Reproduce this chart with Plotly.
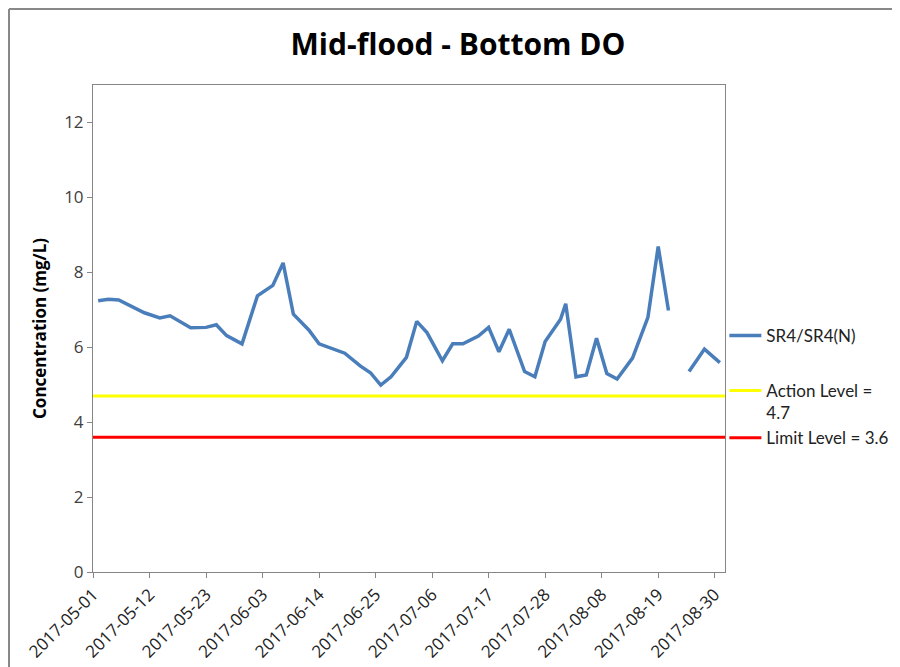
import plotly.graph_objects as go

# ---- data ----
dates = ["2017-05-02", "2017-05-04", "2017-05-06", "2017-05-11", "2017-05-14",
         "2017-05-16", "2017-05-20", "2017-05-23", "2017-05-25", "2017-05-27",
         "2017-05-30", "2017-06-02", "2017-06-05", "2017-06-07", "2017-06-09",
         "2017-06-12", "2017-06-14", "2017-06-19", "2017-06-22", "2017-06-24",
         "2017-06-26", "2017-06-28", "2017-07-01", "2017-07-03", "2017-07-05",
         "2017-07-08", "2017-07-10", "2017-07-12", "2017-07-15", "2017-07-17",
         "2017-07-19", "2017-07-21", "2017-07-24", "2017-07-26", "2017-07-28",
         "2017-07-31", "2017-08-01", "2017-08-03", "2017-08-05", "2017-08-07",
         "2017-08-09", "2017-08-11", "2017-08-14", "2017-08-17", "2017-08-19",
         "2017-08-21", "2017-08-23", "2017-08-25", "2017-08-28", "2017-08-31"]
sr4_do = [7.24, 7.28, 7.26, 6.92, 6.78,
          6.84, 6.52, 6.53, 6.60, 6.31,
          6.09, 7.37, 7.65, 8.25, 6.88,
          6.46, 6.09, 5.84, 5.50, 5.32,
          4.99, 5.21, 5.73, 6.69, 6.39,
          5.64, 6.09, 6.09, 6.30, 6.53,
          5.88, 6.48, 5.35, 5.21, 6.15,
          6.75, 7.16, 5.21, 5.26, 6.24,
          5.30, 5.15, 5.71, 6.80, 8.69,
          6.98, None, 5.35, 5.95, 5.59]

x_range = ["2017-05-01", "2017-09-01"]
action_level = 4.7
limit_level = 3.6
tick_dates = ["2017-05-01", "2017-05-12", "2017-05-23", "2017-06-03", "2017-06-14",
              "2017-06-25", "2017-07-06", "2017-07-17", "2017-07-28", "2017-08-08",
              "2017-08-19", "2017-08-30"]
y_ticks = [0, 2, 4, 6, 8, 10, 12]

FONT = "Open Sans"
ML, MT, MR, MB = 85, 77, 183, 103
PW = 900 - ML - MR
PH = 667 - MT - MB

fig = go.Figure()
fig.add_trace(go.Scatter(x=dates, y=sr4_do, mode="lines", name="SR4/SR4(N)",
                         line=dict(color="#4A7EBB", width=3.5), legendgroup="a",
                         connectgaps=False))
fig.add_trace(go.Scatter(x=x_range, y=[action_level, action_level], mode="lines",
                         name="Action Level =<br>4.7", line=dict(color="#FFFF00", width=3),
                         legendgroup="b"))
fig.add_trace(go.Scatter(x=x_range, y=[limit_level, limit_level], mode="lines",
                         name="Limit Level = 3.6", line=dict(color="#FF0000", width=3),
                         legendgroup="b"))

bx = -(ML - 1) / PW
by = 1 + (MT - 1) / PH

fig.update_layout(
    width=900, height=667,
    margin=dict(l=ML, r=MR, t=MT, b=MB, autoexpand=False),
    paper_bgcolor="white", plot_bgcolor="white",
    font=dict(family=FONT, color="#404040", size=16),
    title=dict(text="<b>Mid-flood - Bottom DO</b>", x=0.5, xanchor="center",
               y=0.945, yanchor="middle", font=dict(size=30, color="black", family=FONT)),
    showlegend=True,
    legend=dict(x=0.999, xanchor="left", y=0.38, yanchor="middle",
                font=dict(size=17, color="#222222", family="Lato"),
                tracegroupgap=30, valign="top", itemwidth=32,
                bgcolor="rgba(0,0,0,0)"),
    xaxis=dict(type="date", range=x_range, tickvals=tick_dates,
               ticktext=tick_dates, tickangle=-45, automargin=False,
               showline=True, linecolor="#868686", linewidth=1, mirror=True,
               ticks="outside", ticklen=5, tickcolor="#868686",
               showgrid=False, zeroline=False,
               tickfont=dict(size=17, color="#222222")),
    yaxis=dict(range=[0, 13], tickvals=y_ticks, automargin=False,
               showline=True, linecolor="#868686", linewidth=1, mirror=True,
               ticks="outside", ticklen=5, tickcolor="#868686",
               showgrid=False, zeroline=False,
               tickfont=dict(size=17, color="#404040"),
               title=dict(text="<b>Concentration (mg/L)</b>", standoff=13,
                          font=dict(size=17, color="black"))),
    shapes=[
        dict(type="line", xref="paper", yref="paper", x0=bx, x1=1.5, y0=by, y1=by,
             line=dict(color="#888888", width=2)),
        dict(type="line", xref="paper", yref="paper", x0=bx, x1=bx, y0=by, y1=-0.5,
             line=dict(color="#888888", width=2)),
    ],
)

fig.write_html("out.html")
